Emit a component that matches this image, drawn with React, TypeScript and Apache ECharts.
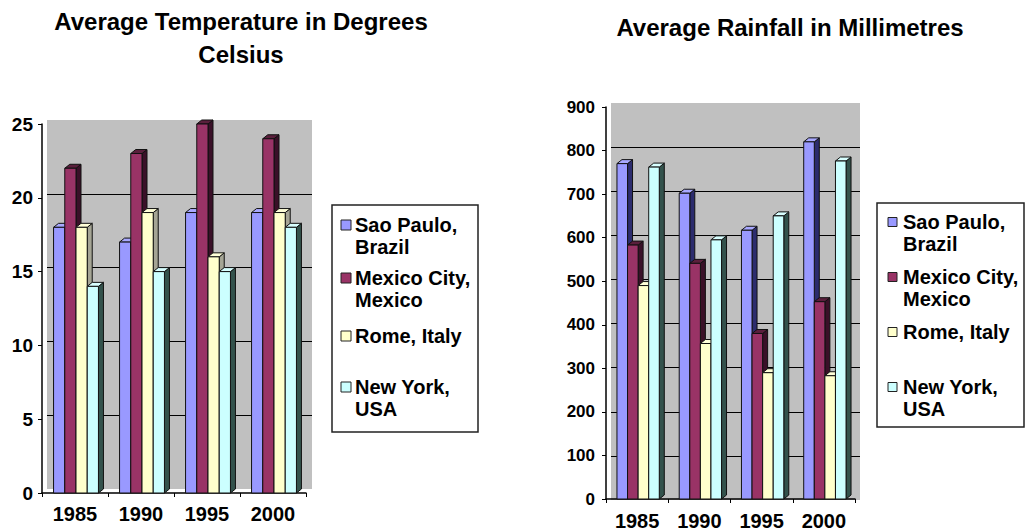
import React, { useEffect, useRef } from "react";
import * as echarts from "echarts";

// ---- data ----
const years = ["1985", "1990", "1995", "2000"];
const seriesNames = ["Sao Paulo, Brazil", "Mexico City, Mexico", "Rome, Italy", "New York, USA"];
const legendLines = [["Sao Paulo,", "Brazil"], ["Mexico City,", "Mexico"], ["Rome, Italy"], ["New York,", "USA"]];

const tempSaoPaulo = [18, 17, 19, 19];
const tempMexicoCity = [22, 23, 25, 24];
const tempRome = [18, 19, 16, 19];
const tempNewYork = [14, 15, 15, 18];

const rainSaoPaulo = [770, 702, 617, 820];
const rainMexicoCity = [583, 541, 380, 453];
const rainRome = [490, 357, 290, 283];
const rainNewYork = [762, 595, 650, 776];

const tempTitle = "Average Temperature in Degrees\nCelsius";
const rainTitle = "Average Rainfall in Millimetres";

// ---- styles ----
const FONT = "'Liberation Sans', Arial, sans-serif";
const frontColors = ["#9999ff", "#993366", "#ffffcc", "#ccffff"];
const sideColors = ["#2c2c6e", "#3a1028", "#a5a595", "#33524c"];
const topColors = ["#a8a8ff", "#5a1f3c", "#ffffd8", "#d8ffff"];
const WALL = "#c0c0c0";

const DX = 5;
const DY = -4;

function makeBars(values: number[], sIdx: number, axisIndex: number) {
  return {
    type: "custom",
    name: seriesNames[sIdx],
    xAxisIndex: axisIndex,
    yAxisIndex: axisIndex,
    data: values.map((v, i) => [i, v]),
    encode: { x: 0, y: 1 },
    clip: false,
    renderItem: (params: any, api: any) => {
      const cat = api.value(0);
      const val = api.value(1);
      const top = api.coord([cat, val]);
      const base = api.coord([cat, 0]);
      const cw = api.size([1, 0])[0];
      const bw = cw * 0.17;
      const x0 = top[0] - 2 * bw + 1 + sIdx * bw;
      const x1 = x0 + bw;
      const yT = top[1];
      const yB = base[1];
      const stroke = "#111";
      return {
        type: "group",
        children: [
          {
            type: "polygon",
            shape: { points: [[x1, yT], [x1 + DX, yT + DY], [x1 + DX, yB + DY], [x1, yB]] },
            style: { fill: sideColors[sIdx], stroke, lineWidth: 1 },
          },
          {
            type: "polygon",
            shape: { points: [[x0, yT], [x0 + DX, yT + DY], [x1 + DX, yT + DY], [x1, yT]] },
            style: { fill: topColors[sIdx], stroke, lineWidth: 1 },
          },
          {
            type: "rect",
            shape: { x: x0, y: yT, width: bw, height: yB - yT },
            style: { fill: frontColors[sIdx], stroke, lineWidth: 1 },
          },
        ],
      };
    },
  };
}

function legendGraphic(x: number, y: number, w: number, h: number, rows: number[], mx: number, msize: number, tx: number) {
  const children: any[] = [
    { type: "rect", shape: { x, y, width: w, height: h }, style: { fill: "#fff", stroke: "#222", lineWidth: 1.5 } },
  ];
  legendLines.forEach((lines, i) => {
    const cy = rows[i];
    children.push({
      type: "rect",
      shape: { x: mx, y: cy - msize / 2, width: msize, height: msize },
      style: { fill: frontColors[i], stroke: "#222", lineWidth: 1 },
    });
    lines.forEach((ln, j) => {
      children.push({
        type: "text",
        x: tx,
        y: cy + j * 22,
        style: {
          text: ln,
          fill: "#000",
          font: `bold 20px ${FONT}`,
          textAlign: "left",
          textVerticalAlign: "middle",
        },
      });
    });
  });
  return { type: "group", children };
}

export default function App() {
  const ref = useRef<HTMLDivElement>(null);
  useEffect(() => {
    if (!ref.current) return;
    const chart = echarts.init(ref.current, undefined, { renderer: "svg" });
    const backY = (max: number, interval: number) => ({
      type: "value",
      min: 0,
      max,
      interval,
      axisLine: { show: false },
      axisTick: { show: false },
      axisLabel: { show: false },
      splitLine: { show: true, showMinLine: false, showMaxLine: false, lineStyle: { color: "#000", width: 1 } },
    });
    const frontY = (max: number, interval: number, fs: number, margin: number) => ({
      type: "value",
      min: 0,
      max,
      interval,
      axisLine: { show: true, lineStyle: { color: "#000", width: 1.5 } },
      axisTick: { show: true, length: 4, lineStyle: { color: "#000" } },
      axisLabel: { show: true, color: "#000", fontSize: fs, fontWeight: "bold", fontFamily: FONT, margin },
      splitLine: { show: false },
    });
    const backX = () => ({
      type: "category",
      data: years,
      axisLine: { show: false },
      axisTick: { show: false },
      axisLabel: { show: false },
    });
    const frontX = (margin: number) => ({
      type: "category",
      data: years,
      axisLine: { show: true, lineStyle: { color: "#000", width: 1.5 } },
      axisTick: { show: true, length: 4, lineStyle: { color: "#000" } },
      axisLabel: { color: "#000", fontSize: 20, fontWeight: "bold", fontFamily: FONT, margin },
    });

    const option: any = {
      animation: false,
      backgroundColor: "#fff",
      title: [
        {
          text: tempTitle,
          left: 236,
          top: 0,
          textAlign: "center",
          textStyle: { fontSize: 24, fontWeight: "bold", fontFamily: FONT, lineHeight: 33, color: "#000" },
        },
        {
          text: rainTitle,
          left: 785,
          top: 6,
          textAlign: "center",
          textStyle: { fontSize: 24, fontWeight: "bold", fontFamily: FONT, lineHeight: 33, color: "#000" },
        },
      ],
      grid: [
        { left: 47, top: 120, width: 265, height: 369, show: true, backgroundColor: WALL, borderWidth: 0 },
        { left: 42, top: 124, width: 264, height: 369 },
        { left: 611, top: 103, width: 249, height: 397, show: true, backgroundColor: WALL, borderWidth: 0 },
        { left: 606, top: 107, width: 249, height: 396 },
      ],
      xAxis: [
        { ...backX(), gridIndex: 0 },
        { ...frontX(11), gridIndex: 1 },
        { ...backX(), gridIndex: 2 },
        { ...frontX(12), gridIndex: 3 },
      ],
      yAxis: [
        { ...backY(25, 5), gridIndex: 0 },
        { ...frontY(25, 5, 19, 9), gridIndex: 1 },
        { ...backY(900, 100), gridIndex: 2 },
        { ...frontY(900, 100, 17, 11), gridIndex: 3 },
      ],
      series: [
        makeBars(tempSaoPaulo, 0, 1),
        makeBars(tempMexicoCity, 1, 1),
        makeBars(tempRome, 2, 1),
        makeBars(tempNewYork, 3, 1),
        makeBars(rainSaoPaulo, 0, 3),
        makeBars(rainMexicoCity, 1, 3),
        makeBars(rainRome, 2, 3),
        makeBars(rainNewYork, 3, 3),
      ],
      graphic: [
        legendGraphic(332, 205, 146, 227, [225, 278, 336, 387], 341, 10, 355),
        legendGraphic(877, 203, 147, 224, [222, 277, 332, 387], 888, 9, 903),
      ],
    };
    chart.setOption(option);
    return () => chart.dispose();
  }, []);
  return (
    <div
      ref={ref}
      style={{ position: "absolute", left: 0, top: 0, width: 1026, height: 531, background: "#fff" }}
    />
  );
}
